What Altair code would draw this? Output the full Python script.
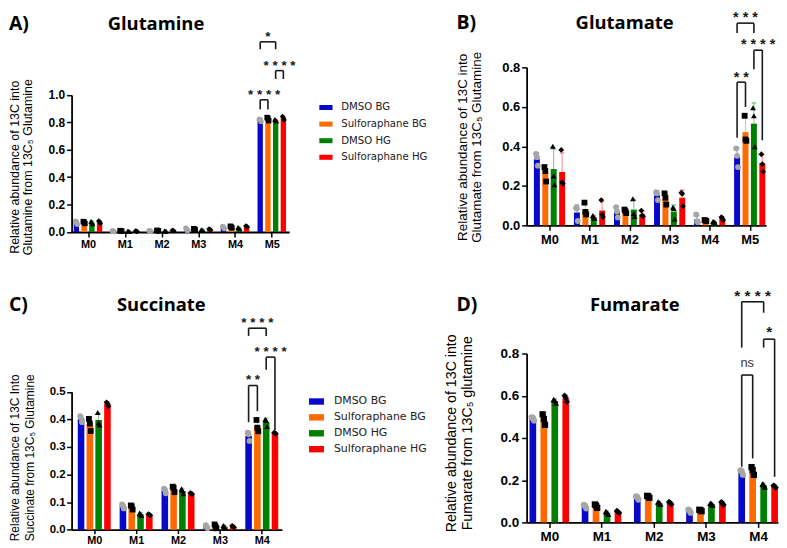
import altair as alt
import pandas as pd
import numpy as np

GROUPS = ["DMSO BG", "Sulforaphane BG", "DMSO HG", "Sulforaphane HG"]
BAR_COLORS = ["#0808c8", "#ff6a00", "#008000", "#ff0000"]
ERR_COLORS = ["#8080e0", "#ffb080", "#80c080", "#ff8888"]
POINT_FILLS = ["#a6a6a6", "#000000", "#000000", "#000000"]
POINT_SHAPES = ["circle", "square", "triangle-up", "diamond"]

# ---------------- Glutamine ----------------
GLN_CATS = ["M0", "M1", "M2", "M3", "M4", "M5"]
GLN_MEANS = [
    [0.068, 0.006, 0.008, 0.018, 0.033, 0.815],
    [0.070, 0.008, 0.010, 0.020, 0.036, 0.825],
    [0.070, 0.004, 0.006, 0.014, 0.028, 0.815],
    [0.072, 0.006, 0.010, 0.018, 0.040, 0.830],
]
GLN_REPS = [
    [[0.078, 0.070, 0.056], [0.008, 0.006, 0.004], [0.010, 0.008, 0.006], [0.028, 0.016, 0.010], [0.040, 0.034, 0.025], [0.822, 0.818, 0.805]],
    [[0.076, 0.072, 0.062], [0.010, 0.008, 0.006], [0.012, 0.010, 0.008], [0.024, 0.020, 0.016], [0.042, 0.036, 0.030], [0.835, 0.828, 0.812]],
    [[0.078, 0.072, 0.060], [0.006, 0.004, 0.002], [0.008, 0.006, 0.004], [0.018, 0.014, 0.010], [0.034, 0.028, 0.022], [0.822, 0.815, 0.808]],
    [[0.080, 0.074, 0.062], [0.008, 0.006, 0.004], [0.012, 0.010, 0.008], [0.022, 0.018, 0.014], [0.044, 0.040, 0.036], [0.842, 0.832, 0.816]],
]
# (category, group a, group b, leg a bottom, leg b bottom, bracket top, label, label baseline)
GLN_SIG = [
    (5, 0, 2, 1.333, 1.333, 1.387, "*", 1.394),
    (5, 2, 3, 1.116, 1.116, 1.177, "* * * *", 1.184),
    (5, 0, 1, 0.894, 0.894, 0.964, "* * * *", 0.971),
]

# ---------------- Glutamate ----------------
GLU_CATS = ["M0", "M1", "M2", "M3", "M4", "M5"]
GLU_MEANS = [
    [0.335, 0.065, 0.068, 0.152, 0.030, 0.345],
    [0.265, 0.080, 0.072, 0.135, 0.024, 0.472],
    [0.285, 0.042, 0.080, 0.070, 0.018, 0.515],
    [0.270, 0.075, 0.055, 0.140, 0.034, 0.315],
]
GLU_REPS = [
    [[0.362, 0.345, 0.302], [0.088, 0.085, 0.022], [0.092, 0.070, 0.040], [0.168, 0.162, 0.128], [0.055, 0.020, 0.016], [0.390, 0.352, 0.295]],
    [[0.295, 0.275, 0.222], [0.115, 0.068, 0.055], [0.080, 0.072, 0.062], [0.162, 0.140, 0.105], [0.027, 0.024, 0.022], [0.555, 0.435, 0.428]],
    [[0.400, 0.250, 0.205], [0.050, 0.042, 0.035], [0.135, 0.060, 0.045], [0.092, 0.085, 0.032], [0.020, 0.018, 0.016], [0.595, 0.555, 0.398]],
    [[0.382, 0.218, 0.210], [0.128, 0.055, 0.042], [0.075, 0.050, 0.045], [0.165, 0.160, 0.097], [0.042, 0.035, 0.026], [0.360, 0.310, 0.272]],
]
GLU_SIG = [
    (5, 0, 1, 0.443, 0.599, 0.725, "* *", 0.728),
    (5, 2, 3, 0.791, 0.431, 0.887, "* * * *", 0.895),
    (5, 0, 2, 0.974, 0.974, 1.024, "* * *", 1.031),
]

# ---------------- Succinate ----------------
SUC_CATS = ["M0", "M1", "M2", "M3", "M4"]
SUC_MEANS = [
    [0.402, 0.085, 0.142, 0.010, 0.340],
    [0.382, 0.082, 0.148, 0.012, 0.375],
    [0.398, 0.056, 0.140, 0.011, 0.390],
    [0.456, 0.054, 0.131, 0.011, 0.350],
]
SUC_REPS = [
    [[0.412, 0.405, 0.390], [0.092, 0.086, 0.077], [0.149, 0.145, 0.132], [0.016, 0.010, 0.005], [0.352, 0.346, 0.322]],
    [[0.402, 0.385, 0.358], [0.088, 0.085, 0.073], [0.156, 0.152, 0.136], [0.019, 0.012, 0.005], [0.398, 0.370, 0.357]],
    [[0.425, 0.388, 0.380], [0.060, 0.057, 0.051], [0.148, 0.142, 0.130], [0.015, 0.011, 0.007], [0.400, 0.396, 0.374]],
    [[0.462, 0.458, 0.448], [0.056, 0.054, 0.052], [0.133, 0.131, 0.129], [0.014, 0.011, 0.008], [0.352, 0.350, 0.348]],
]
SUC_SIG = [
    (4, 0, 1, 0.390, 0.430, 0.523, "* *", 0.527),
    (4, 0, 2, 0.703, 0.703, 0.731, "* * * *", 0.736),
    (4, 2, 3, 0.580, 0.360, 0.626, "* * * *", 0.630),
]

# ---------------- Fumarate ----------------
FUM_CATS = ["M0", "M1", "M2", "M3", "M4"]
FUM_MEANS = [
    [0.490, 0.076, 0.117, 0.054, 0.236],
    [0.488, 0.078, 0.122, 0.057, 0.245],
    [0.575, 0.046, 0.092, 0.087, 0.176],
    [0.587, 0.050, 0.092, 0.090, 0.170],
]
FUM_REPS = [
    [[0.498, 0.495, 0.483], [0.083, 0.078, 0.067], [0.123, 0.120, 0.108], [0.060, 0.056, 0.046], [0.246, 0.242, 0.226]],
    [[0.512, 0.490, 0.462], [0.085, 0.080, 0.069], [0.126, 0.124, 0.116], [0.060, 0.058, 0.053], [0.262, 0.248, 0.225]],
    [[0.582, 0.578, 0.565], [0.052, 0.047, 0.039], [0.097, 0.093, 0.086], [0.091, 0.088, 0.082], [0.182, 0.178, 0.168]],
    [[0.600, 0.590, 0.571], [0.054, 0.051, 0.045], [0.097, 0.093, 0.086], [0.096, 0.092, 0.082], [0.174, 0.172, 0.164]],
]
FUM_SIG = [
    (4, 0, 2, 0.828, 0.993, 1.045, "* * * *", 1.049),
    (4, 2, 3, 0.828, 0.216, 0.868, "*", 0.878),
    (4, 0, 1, 0.264, 0.303, 0.698, "ns", 0.734),
]

OFFSET = 0.21
JIT = 0.022


def frames(means, reps, bar_w):
    rows, pts = [], []
    for g, name in enumerate(GROUPS):
        for c in range(len(means[g])):
            xc = c + (g - 1.5) * OFFSET
            vals = reps[g][c]
            sd = float(np.std(vals, ddof=1))
            m = means[g][c]
            rows.append(dict(group=name, xc=xc, xl=xc - bar_w / 2, xr=xc + bar_w / 2,
                             mean=m, top=m + sd))
            for r, v in enumerate(vals):
                pts.append(dict(group=name, xc=xc + (r - 1) * JIT, mean=v))
    return pd.DataFrame(rows), pd.DataFrame(pts)


def sig_frames(sig):
    segs, labs = [], []
    for (c, a, b, ya, yb, yt, lab, ly) in sig:
        xa = c + (a - 1.5) * OFFSET
        xb = c + (b - 1.5) * OFFSET
        segs.append(dict(xc=xa, x2=xa, mean=ya, y2=yt))
        segs.append(dict(xc=xb, x2=xb, mean=yb, y2=yt))
        segs.append(dict(xc=xa, x2=xb, mean=yt, y2=yt))
        labs.append(dict(xc=(xa + xb) / 2, mean=ly, t=lab))
    return pd.DataFrame(segs), pd.DataFrame(labs)


def text_layer(text, x, y, size, font="Open Sans", weight="bold"):
    return alt.Chart(pd.DataFrame({"t": [text]})).mark_text(
        align="left", baseline="alphabetic", font=font, fontSize=size,
        fontWeight=weight, color="black"
    ).encode(x=alt.value(x), y=alt.value(y), text="t:N")


def panel(cats, means, reps, sig, cfg):
    n = len(cats)
    bars_df, pts_df = frames(means, reps, cfg["bar_w"])
    seg_df, lab_df = sig_frames(sig)

    xscale = alt.Scale(domain=cfg["xdom"], nice=False, zero=False)
    yscale = alt.Scale(domain=cfg["ydom"], range=cfg["yrange"], nice=False, zero=False)
    xaxis = alt.Axis(values=list(range(n)), labelExpr="'M' + datum.value", title=None,
                     labelFont="Liberation Sans", labelFontWeight="bold",
                     labelFontSize=cfg["xlab"], labelColor="black", domainColor="black",
                     domainWidth=1.8, tickColor="black", tickWidth=1.5, tickSize=cfg["xtick"],
                     labelPadding=cfg["xpad"], grid=False, labelFlush=False, labelOverlap=False)
    yaxis = alt.Axis(values=cfg["yticks"], format=".1f", title=cfg["ytitle"],
                     titleX=cfg["titleX"], titleY=cfg["titleY"], titleAngle=270,
                     titleAlign="center", titleBaseline="bottom",
                     titleFont="Liberation Sans", titleFontWeight="normal",
                     titleFontSize=cfg["tfs"], titleLineHeight=cfg["tlh"], titleColor="black",
                     labelFont="Liberation Sans", labelFontWeight="bold",
                     labelFontSize=cfg["ylab"], labelColor="black", domainColor="black",
                     domainWidth=1.8, tickColor="black", tickWidth=1.5, tickSize=5,
                     labelPadding=cfg["ypad"], grid=False, labelFlush=False, labelOverlap=False)

    def X(field):
        return alt.X(field, type="quantitative", scale=xscale, axis=xaxis)

    def Y(field):
        return alt.Y(field, type="quantitative", scale=yscale, axis=yaxis)

    if cfg.get("legend"):
        lg = cfg["legend"]
        legend = alt.Legend(orient="none", legendX=lg["x"], legendY=lg["y"], title=None,
                            direction="vertical", symbolType=lg["path"], symbolSize=lg["size"],
                            symbolStrokeWidth=0, symbolOpacity=1, labelFont="DejaVu Sans",
                            labelFontSize=lg["fs"], labelColor="#222222",
                            labelOffset=lg["loff"], rowPadding=lg["rowpad"], padding=0,
                            offset=0, labelLimit=300)
    else:
        legend = None

    bars = alt.Chart(bars_df).mark_bar().encode(
        x=X("xl"), x2="xr", y=Y("mean"), y2=alt.datum(0),
        color=alt.Color("group:N", scale=alt.Scale(domain=GROUPS, range=BAR_COLORS), legend=legend),
    )
    err = alt.Chart(bars_df).mark_rule(strokeWidth=1).encode(
        x=X("xc"), y=Y("mean"), y2="top",
        stroke=alt.Stroke("group:N", scale=alt.Scale(domain=GROUPS, range=ERR_COLORS), legend=None),
    )
    caps = alt.Chart(bars_df).mark_tick(orient="horizontal", size=4, thickness=1).encode(
        x=X("xc"), y=Y("top"),
        stroke=alt.Stroke("group:N", scale=alt.Scale(domain=GROUPS, range=ERR_COLORS), legend=None),
    )
    pts = alt.Chart(pts_df).mark_point(filled=True, opacity=1, strokeWidth=0, size=cfg["psize"]).encode(
        x=X("xc"), y=Y("mean"),
        fill=alt.Fill("group:N", scale=alt.Scale(domain=GROUPS, range=POINT_FILLS), legend=None),
        shape=alt.Shape("group:N", scale=alt.Scale(domain=GROUPS, range=POINT_SHAPES), legend=None),
    )
    segs = alt.Chart(seg_df).mark_rule(strokeWidth=1.6, color="#1a1a1a").encode(
        x=X("xc"), x2="x2", y=Y("mean"), y2="y2"
    )
    layers = [bars, err, caps, pts, segs]
    stars_df = lab_df[lab_df["t"] != "ns"]
    ns_df = lab_df[lab_df["t"] == "ns"]
    layers.append(alt.Chart(stars_df).mark_text(
        align="center", baseline="alphabetic", font="Liberation Sans", fontWeight="bold",
        fontSize=cfg["sfs"], color="#1a1a1a").encode(x=X("xc"), y=Y("mean"), text="t:N"))
    if len(ns_df):
        layers.append(alt.Chart(ns_df).mark_text(
            align="center", baseline="alphabetic", font="Liberation Sans",
            fontSize=13, color="#333333").encode(x=X("xc"), y=Y("mean"), text="t:N"))
    layers.append(text_layer(cfg["letter"], cfg["lx"], cfg["ty"], 19.5))
    layers.append(text_layer(cfg["name"], cfg["nx"], cfg["ty"], 18.5))
    return alt.layer(*layers).properties(width=cfg["w"], height=cfg["h"])


RECT_A = "M-1,-0.38L1,-0.38L1,0.38L-1,0.38Z"
RECT_C = "M-1,-0.43L1,-0.43L1,0.43L-1,0.43Z"

cfgA = dict(w=219, h=165.7, xdom=[-0.446, 5.473], ydom=[0, 1], yrange=[165.7, 27.7],
            yticks=[0, 0.2, 0.4, 0.6, 0.8, 1.0], bar_w=0.146, xlab=11, ylab=12, xpad=2, ypad=2,
            xtick=5,
            ytitle=["Relative abundance of 13C into", "Glutamine from 13C\u2085 Glutamine"],
            titleX=-50.5, titleY=100, tfs=12.5, tlh=13.5, sfs=13.5, psize=30,
            letter="A)", lx=-63, name="Glutamine", nx=36.3, ty=-37.7,
            legend=dict(x=249, y=33.4, path=RECT_A, size=177, fs=10.2, loff=8.4, rowpad=3.7))
cfgB = dict(w=241, h=159, xdom=[-0.571, 5.409], ydom=[0, 0.8], yrange=[159, 0],
            yticks=[0, 0.2, 0.4, 0.6, 0.8], bar_w=0.149, xlab=13, ylab=13, xpad=3, ypad=2,
            xtick=5,
            ytitle=["Relative abundance of 13C into", "Glutamate from 13C\u2085 Glutamine"],
            titleX=-58, titleY=80, tfs=13.5, tlh=15, sfs=14.5, psize=34,
            letter="B)", lx=-70.7, name="Glutamate", nx=49.3, ty=-38.3, legend=None)
cfgC = dict(w=211.7, h=177.3, xdom=[-0.541, 4.481], ydom=[0, 0.5], yrange=[177.3, 38.6],
            yticks=[0, 0.1, 0.2, 0.3, 0.4, 0.5], bar_w=0.157, xlab=11, ylab=11.5, xpad=1, ypad=1.5,
            xtick=4,
            ytitle=["Relative abundance of 13C Into", "Succinate from 13C\u2085 Glutamine"],
            titleX=-50, titleY=104.5, tfs=12, tlh=15, sfs=13.5, psize=34,
            letter="C)", lx=-63, name="Succinate", nx=45.7, ty=-42.7,
            legend=dict(x=239, y=40.8, path=RECT_C, size=225, fs=11, loff=10, rowpad=3))
cfgD = dict(w=253, h=170, xdom=[-0.434, 4.38], ydom=[0, 0.8], yrange=[170, 0],
            yticks=[0, 0.2, 0.4, 0.6, 0.8], bar_w=0.128, xlab=13.5, ylab=13.5, xpad=2, ypad=3,
            xtick=5,
            ytitle=["Relative abundance of 13C into", "Fumarate from 13C\u2085 glutamine"],
            titleX=-68.7, titleY=79.8, tfs=14.3, tlh=16, sfs=15.5, psize=40,
            letter="D)", lx=-70.7, name="Fumarate", nx=63.7, ty=-42.7, legend=None)

pA = panel(GLN_CATS, GLN_MEANS, GLN_REPS, GLN_SIG, cfgA)
pB = panel(GLU_CATS, GLU_MEANS, GLU_REPS, GLU_SIG, cfgB)
pC = panel(SUC_CATS, SUC_MEANS, SUC_REPS, SUC_SIG, cfgC)
pD = panel(FUM_CATS, FUM_MEANS, FUM_REPS, FUM_SIG, cfgD)

chart = alt.concat(
    pA, pB, pC, pD, columns=2, spacing={"row": 122, "column": 239},
    bounds="flush", align="each"
).resolve_scale(color="independent").resolve_legend(color="independent").properties(
    padding=0, background="white"
).configure_view(stroke=None)

chart.save("out.html", embed_options={"renderer": "svg", "actions": False})
